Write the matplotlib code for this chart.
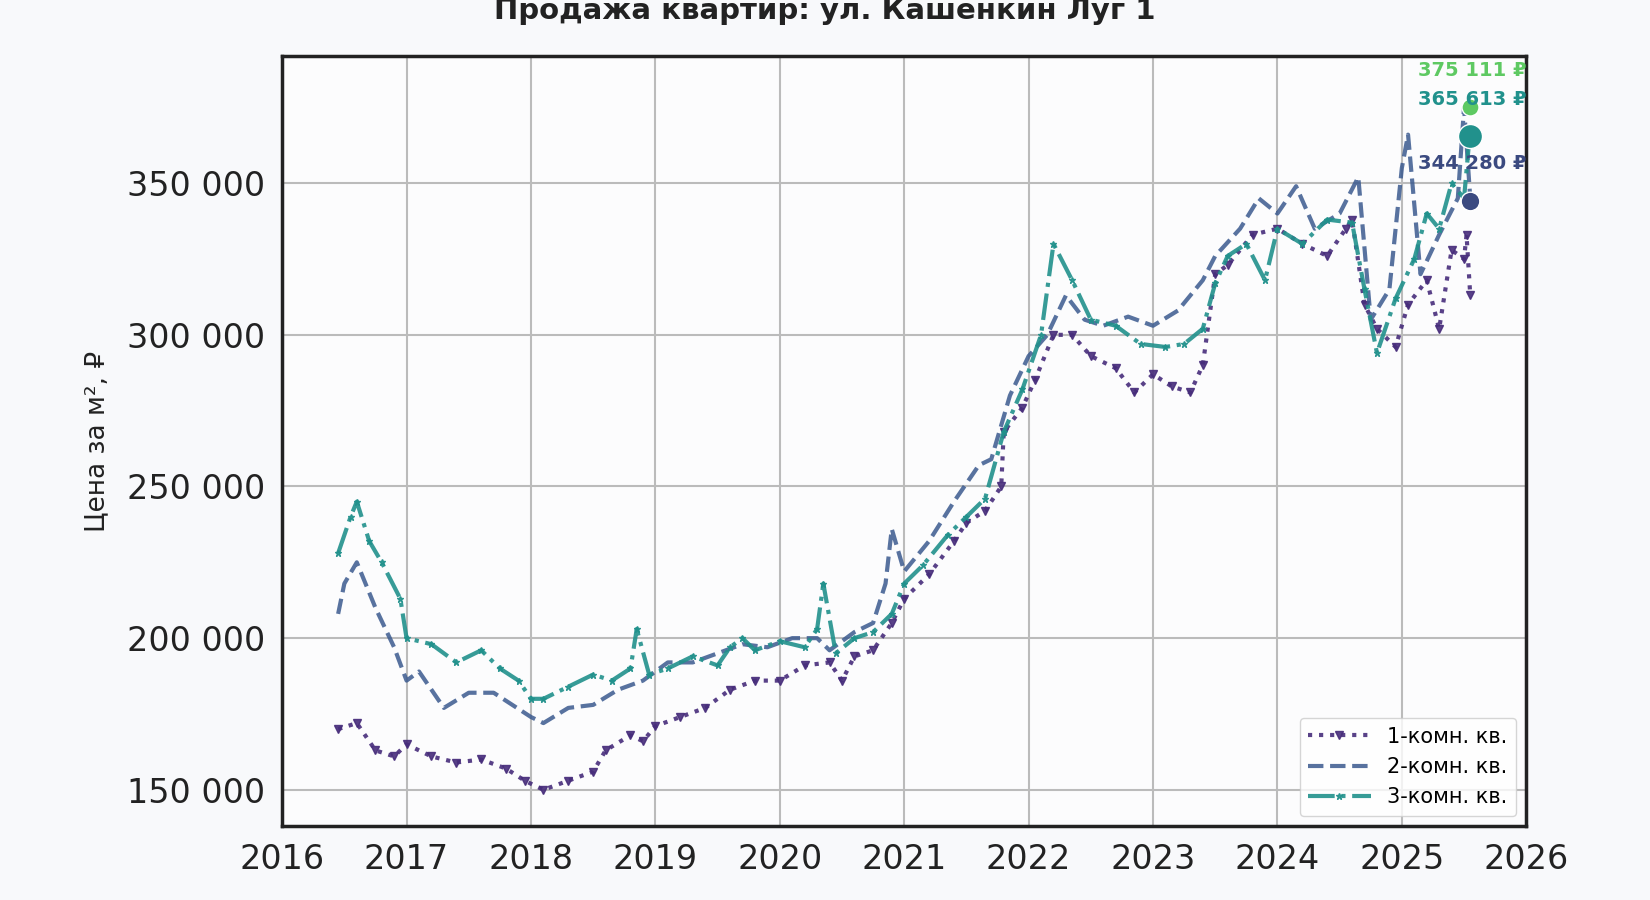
import numpy as np
import matplotlib
matplotlib.use("Agg")
import matplotlib.pyplot as plt

plt.rcParams['font.family'] = ['DejaVu Sans']

# fractional years / price per m2 (thousand rub)
t1 = [2016.45, 2016.6, 2016.75, 2016.9, 2017.0, 2017.2, 2017.4, 2017.6, 2017.8, 2017.95, 2018.1, 2018.3, 2018.5,
      2018.6, 2018.8, 2018.9, 2019.0, 2019.2, 2019.4, 2019.6, 2019.8, 2020.0, 2020.2, 2020.4, 2020.5, 2020.6,
      2020.75, 2020.9, 2021.0, 2021.2, 2021.4, 2021.5, 2021.65, 2021.78, 2021.8, 2021.95, 2022.05, 2022.2, 2022.35,
      2022.5, 2022.7, 2022.85, 2023.0, 2023.15, 2023.3, 2023.4, 2023.5, 2023.6, 2023.8, 2024.0, 2024.2, 2024.4,
      2024.55, 2024.6, 2024.7, 2024.8, 2024.95, 2025.05, 2025.2, 2025.3, 2025.4, 2025.5, 2025.52, 2025.55]
v1 = [170, 172, 163, 161, 165, 161, 159, 160, 157, 153, 150, 153, 156,
      163, 168, 166, 171, 174, 177, 183, 186, 186, 191, 192, 186, 194,
      196, 205, 213, 221, 232, 238, 242, 250, 268, 276, 285, 300, 300,
      293, 289, 281, 287, 283, 281, 290, 320, 323, 333, 335, 330, 326,
      335, 338, 310, 302, 296, 310, 318, 302, 328, 325, 333, 313]
t2 = [2016.45, 2016.5, 2016.6, 2016.75, 2016.9, 2017.0, 2017.1, 2017.3, 2017.5, 2017.7, 2017.85, 2018.0, 2018.1,
      2018.3, 2018.5, 2018.7, 2018.9, 2019.1, 2019.3, 2019.5, 2019.7, 2019.9, 2020.1, 2020.3, 2020.4, 2020.6,
      2020.75, 2020.85, 2020.9, 2021.0, 2021.2, 2021.4, 2021.6, 2021.7, 2021.85, 2022.0, 2022.15, 2022.3, 2022.45,
      2022.6, 2022.8, 2023.0, 2023.2, 2023.4, 2023.5, 2023.7, 2023.85, 2024.0, 2024.15, 2024.3, 2024.5, 2024.65,
      2024.75, 2024.9, 2025.0, 2025.05, 2025.15, 2025.3, 2025.45, 2025.5, 2025.55]
v2 = [208, 218, 225, 210, 197, 186, 189, 177, 182, 182, 178, 174, 172,
      177, 178, 183, 186, 192, 192, 195, 198, 197, 200, 200, 196, 202,
      205, 218, 236, 222, 232, 245, 257, 259, 280, 293, 300, 313, 305,
      303, 306, 303, 308, 318, 326, 335, 345, 340, 349, 335, 340, 352,
      305, 315, 355, 366, 320, 333, 345, 375, 345]
t3 = [2016.45, 2016.55, 2016.6, 2016.7, 2016.8, 2016.95, 2017.0, 2017.2, 2017.4, 2017.6, 2017.75, 2017.9, 2018.0,
      2018.1, 2018.3, 2018.5, 2018.65, 2018.8, 2018.85, 2018.95, 2019.1, 2019.3, 2019.5, 2019.6, 2019.7, 2019.8,
      2020.0, 2020.2, 2020.3, 2020.35, 2020.45, 2020.6, 2020.75, 2020.9, 2021.0, 2021.15, 2021.35, 2021.5, 2021.65,
      2021.8, 2021.95, 2022.1, 2022.2, 2022.35, 2022.5, 2022.7, 2022.9, 2023.1, 2023.25, 2023.4, 2023.5, 2023.6,
      2023.75, 2023.9, 2024.0, 2024.2, 2024.4, 2024.6, 2024.7, 2024.8, 2024.95, 2025.1, 2025.2, 2025.3, 2025.4,
      2025.5, 2025.55]
v3 = [228, 240, 245, 232, 225, 213, 200, 198, 192, 196, 190, 186, 180,
      180, 184, 188, 186, 190, 203, 188, 190, 194, 191, 197, 200, 196,
      199, 197, 203, 218, 195, 200, 202, 208, 218, 224, 234, 240, 246,
      268, 282, 300, 330, 318, 305, 303, 297, 296, 297, 302, 317, 326,
      330, 318, 335, 330, 338, 337, 315, 294, 312, 325, 340, 335, 350,
      345, 368]
labels = ["1-комн. кв.", "2-комн. кв.", "3-комн. кв."]
end_vals = [344280, 365613, 375111]
end_x = 2025.55

c1, c2, c3 = "#472d7b", "#3b5a8f", "#21918c"
bg = "#f8f9fb"

fig = plt.figure(figsize=(16.5, 9), dpi=100, facecolor=bg)
ax = fig.add_axes([0.171, 0.082, 0.754, 0.856], facecolor="#fcfcfd")

ax.plot(t1, np.array(v1) * 1000, color=c1, ls=":", lw=3, marker="v", ms=6, alpha=0.9, label=labels[0])
ax.plot(t2, np.array(v2) * 1000, color=c2, ls="--", lw=3, alpha=0.85, label=labels[1])
ax.plot(t3, np.array(v3) * 1000, color=c3, ls="-.", lw=3, marker="*", ms=5, alpha=0.9, label=labels[2])

dot_cols = ["#3b4a80", "#21918c", "#5ec962"]
dot_sz = [180, 300, 150]
for v, c, s in zip(end_vals, dot_cols, dot_sz):
    ax.scatter([end_x], [v], s=s, color=c, edgecolor="white", zorder=6)
    ax.text(end_x + 0.45, v + 9000, f"{v:,}".replace(",", " ") + " ₽", color=c,
            fontsize=14, fontweight="bold", ha="right", va="bottom", zorder=7)

ax.set_xlim(2016, 2026)
ax.set_ylim(138000, 392000)
ax.set_xticks(range(2016, 2027))
ax.set_yticks([150000, 200000, 250000, 300000, 350000])
ax.set_yticklabels(["150 000", "200 000", "250 000", "300 000", "350 000"])
ax.tick_params(labelsize=24, colors="#222222", length=0, pad=12)
ax.grid(True, color="#bbbbbb", lw=1.5)
for s in ax.spines.values():
    s.set_color("#222222")
    s.set_linewidth(2.5)
ax.set_ylabel("Цена за м², ₽", fontsize=19, color="#222222", labelpad=12)
ax.set_xlabel("Дата", fontsize=19, color="#222222", labelpad=22)
fig.text(0.5, 0.988, "Продажа квартир: ул. Кашенкин Луг 1", fontsize=21, fontweight="bold",
         color="#222222", ha="center", va="center")
ax.legend(loc="lower right", fontsize=15, frameon=True, facecolor="white", edgecolor="#cccccc", handlelength=3)

fig.savefig("out.png", dpi=100, facecolor=bg)
